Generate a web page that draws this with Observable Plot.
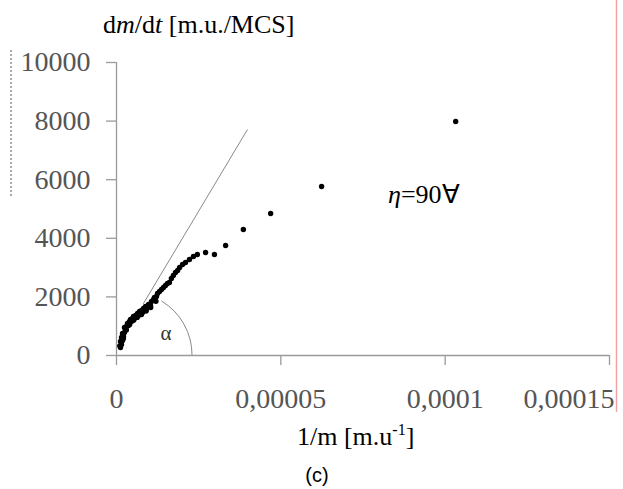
<!DOCTYPE html>
<html>
<head>
<meta charset="utf-8">
<script src="https://cdn.jsdelivr.net/npm/d3@7"></script>
<script src="https://cdn.jsdelivr.net/npm/@observablehq/plot@0.6"></script>
<style>
  html, body { margin: 0; padding: 0; background: #fff; }
  #chart { width: 623px; height: 489px; }
</style>
</head>
<body>
<div id="chart"></div>
<script>
// 1/m values [m.u^-1]
const invMass = [
  1.22e-6, 1.52e-6, 1.22e-6, 1.83e-6, 1.52e-6, 2.13e-6, 1.83e-6, 2.43e-6, 2.74e-6, 2.43e-6,
  3.04e-6, 3.35e-6, 3.65e-6, 3.96e-6, 4.26e-6, 4.56e-6, 4.87e-6, 5.17e-6, 5.48e-6, 5.78e-6,
  6.39e-6, 6.69e-6, 7.0e-6, 7.61e-6, 7.91e-6, 8.22e-6, 8.82e-6, 9.13e-6, 9.74e-6, 10.35e-6,
  10.65e-6, 11.26e-6, 11.56e-6, 12.17e-6, 12.48e-6, 13.09e-6, 13.69e-6, 14.3e-6, 14.9e-6, 15.5e-6,
  16.1e-6, 16.7e-6, 17.3e-6, 17.95e-6, 18.6e-6, 19.2e-6, 20.1e-6, 21.0e-6, 22.2e-6, 23.4e-6,
  24.6e-6, 27.1e-6, 29.8e-6, 33.2e-6, 38.6e-6, 46.9e-6, 62.4e-6, 103.2e-6,
  2.1e-6, 3.0e-6, 4.0e-6, 5.2e-6, 6.3e-6, 7.6e-6, 9.0e-6, 10.4e-6, 12.0e-6, 1.0e-6
];
// dm/dt values [m.u./MCS]
const dmdt = [
  273, 375, 478, 512, 614, 648, 751, 785, 887, 956,
  990, 1092, 1024, 1160, 1229, 1160, 1263, 1331, 1263, 1365,
  1433, 1365, 1502, 1536, 1468, 1604, 1672, 1570, 1741, 1707,
  1843, 1911, 1980, 2014, 2116, 2184, 2253, 2321, 2389, 2457,
  2491, 2628, 2730, 2833, 2901, 3003, 3106, 3174, 3276, 3379,
  3447, 3515, 3447, 3754, 4300, 4846, 5768, 7986,
  580, 870, 1060, 1200, 1300, 1400, 1520, 1640, 1850, 330
];
// tangent line
const lineX = [8.2e-6, 3.98e-5];
const lineY = [1775, 7703];
// ticks
const xTicks = [0, 0.00005, 0.0001, 0.00015];
const yTicks = [0, 2000, 4000, 6000, 8000, 10000];
const fmtX = d => String(d).replace(".", ",");
// annotations
const arcCenterX = 3.96e-6;
const arcAngleDeg = 59;
const etaLabel = {x: 8.4e-5, y: 5461};

const points = invMass.map((x, i) => ({x, y: dmdt[i]}));
const tangent = lineX.map((x, i) => ({x, y: lineY[i]}));

const W = 623, H = 489;
const mTop = 62, mBottom = 134, mLeft = 116, mRight = 14;
const serif = "'Liberation Serif', 'Times New Roman', serif";

const plot = Plot.plot({
  width: W,
  height: H,
  marginTop: mTop,
  marginBottom: mBottom,
  marginLeft: mLeft,
  marginRight: mRight,
  style: {fontFamily: serif, fontSize: "28px", background: "#fff", overflow: "visible"},
  x: {domain: [0, 0.00015], label: null},
  y: {domain: [0, 10000], label: null},
  marks: [
    Plot.ruleX([0], {y1: 0, y2: 10000, stroke: "#9a9a9a", strokeWidth: 1.3}),
    Plot.ruleY([0], {x1: 0, x2: 0.00015, stroke: "#9a9a9a", strokeWidth: 1.3}),
    Plot.axisY({ticks: yTicks, tickSize: 10, tickFormat: () => "", stroke: "#9a9a9a", strokeWidth: 1.3, label: null}),
    Plot.axisX({ticks: xTicks, tickSize: 10, tickFormat: () => "", stroke: "#9a9a9a", strokeWidth: 1.3, label: null}),
    Plot.text(yTicks, {y: d => d, text: d => String(d), frameAnchor: "left", dx: -26, textAnchor: "end", lineAnchor: "middle", fill: "#555", fontSize: 28, fontFamily: serif}),
    Plot.text(xTicks.slice(0, 3), {x: d => d, text: fmtX, frameAnchor: "bottom", dy: 33, lineAnchor: "top", textAnchor: "middle", fill: "#555", fontSize: 28, fontFamily: serif}),
    Plot.text(xTicks.slice(3), {x: d => d, text: fmtX, frameAnchor: "bottom", dy: 33, dx: 5, lineAnchor: "top", textAnchor: "end", fill: "#555", fontSize: 28, fontFamily: serif}),
    Plot.line(tangent, {x: "x", y: "y", stroke: "#8a8a8a", strokeWidth: 1}),
    Plot.dot(points, {x: "x", y: "y", r: 2.7, fill: "#000", stroke: null})
  ]
});

document.getElementById("chart").appendChild(plot);

const svg = d3.select(plot);
const sx = d3.scaleLinear([0, 0.00015], [mLeft, W - mRight]);
const sy = d3.scaleLinear([0, 10000], [H - mBottom, mTop]);

// angle arc
const cx = sx(arcCenterX), cy = sy(0), r = 63;
const a = arcAngleDeg * Math.PI / 180;
svg.append("path")
  .attr("d", `M${cx + r},${cy} A${r},${r} 0 0 0 ${cx + r * Math.cos(a)},${cy - r * Math.sin(a)}`)
  .attr("fill", "none").attr("stroke", "#8a8a8a").attr("stroke-width", 1);
svg.append("text").attr("x", 166).attr("y", 340).attr("text-anchor", "middle")
  .attr("font-size", 21).attr("fill", "#333").text("α");

// eta label
const eta = svg.append("text").attr("x", 388).attr("y", sy(etaLabel.y) + 8)
  .attr("text-anchor", "start").attr("font-size", 26).attr("fill", "#000");
eta.append("tspan").attr("font-style", "italic").text("η");
eta.append("tspan").text("=90∀");

// y title
const title = svg.append("text").attr("x", 103).attr("y", 33).attr("text-anchor", "start")
  .attr("font-size", 26).attr("fill", "#000");
title.append("tspan").text("d");
title.append("tspan").attr("font-style", "italic").text("m");
title.append("tspan").text("/d");
title.append("tspan").attr("font-style", "italic").text("t");
title.append("tspan").text(" [m.u./MCS]");

// x label
const xl = svg.append("text").attr("x", 297).attr("y", 445).attr("text-anchor", "start")
  .attr("font-size", 26).attr("fill", "#000");
xl.append("tspan").text("1/m [m.u");
xl.append("tspan").attr("font-size", 16).attr("dy", -10).text("-1");
xl.append("tspan").attr("dy", 10).text("]");

// panel caption
svg.append("text").attr("x", 317).attr("y", 482).attr("text-anchor", "middle")
  .attr("font-family", "'Liberation Sans', Arial, sans-serif").attr("font-size", 20).attr("fill", "#000").text("(c)");

// scan edge artifacts
svg.append("line").attr("x1", 616.5).attr("x2", 616.5).attr("y1", 0).attr("y2", 412)
  .attr("stroke", "#f2a4a4").attr("stroke-width", 1.5);
svg.append("line").attr("x1", 11).attr("x2", 11).attr("y1", 50).attr("y2", 197)
  .attr("stroke", "#555").attr("stroke-width", 1).attr("stroke-dasharray", "2,2");
</script>
</body>
</html>
